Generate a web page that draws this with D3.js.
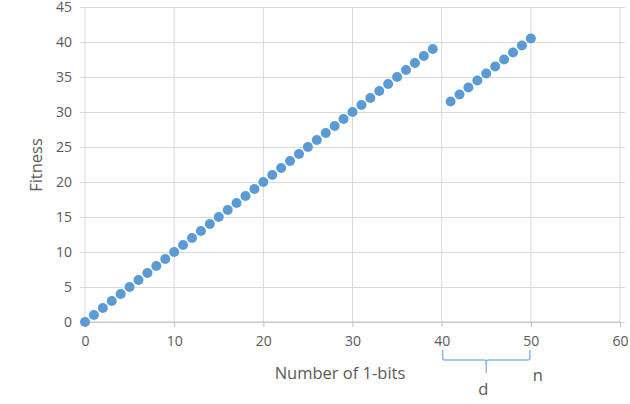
<!DOCTYPE html>
<html>
<head>
<meta charset="utf-8">
<script src="https://cdn.jsdelivr.net/npm/d3@7"></script>
<style>
 body { margin: 0; background: #fff; }
 text { font-family: "Open Sans", "Noto Sans", sans-serif; fill: #595959; }
</style>
</head>
<body>
<div id="chart"></div>
<script>
// data: number of 1-bits vs fitness
const bitsLow = [0,1,2,3,4,5,6,7,8,9,10,11,12,13,14,15,16,17,18,19,20,21,22,23,24,25,26,27,28,29,30,31,32,33,34,35,36,37,38,39];
const fitLow = [0,1,2,3,4,5,6,7,8,9,10,11,12,13,14,15,16,17,18,19,20,21,22,23,24,25,26,27,28,29,30,31,32,33,34,35,36,37,38,39];
const bitsHigh = [41,42,43,44,45,46,47,48,49,50];
const fitHigh = [31.5,32.5,33.5,34.5,35.5,36.5,37.5,38.5,39.5,40.5];
const xTicks = [0,10,20,30,40,50,60];
const yTicks = [0,5,10,15,20,25,30,35,40,45];
const bracket = { from: 40, to: 50, label: "d", endLabel: "n" };

const width = 630, height = 404,
 margin = { top: 7, right: 10, bottom: 82, left: 85 };

const points = bitsLow.map((b, i) => ({ x: b, y: fitLow[i] }))
 .concat(bitsHigh.map((b, i) => ({ x: b, y: fitHigh[i] })));

const svg = d3.select("#chart").append("svg")
 .attr("width", width)
 .attr("height", height);

const x = d3.scaleLinear().domain([0, 60]).range([margin.left, width - margin.right]);
const y = d3.scaleLinear().domain([0, 45]).range([height - margin.bottom, margin.top]);

// horizontal grid + y labels
svg.append("g")
 .attr("transform", `translate(${margin.left},0)`)
 .call(d3.axisLeft(y).tickValues(yTicks).tickSize(-(width - margin.right - margin.left + 5)).tickPadding(13))
 .call(g => g.select(".domain").remove())
 .call(g => g.selectAll(".tick line").attr("stroke", "#d9d9d9").attr("x1", -5))
 .call(g => g.selectAll(".tick text").attr("font-size", 14).attr("fill", "#595959").attr("font-family", "Open Sans"));

// vertical grid
svg.append("g")
 .selectAll("line")
 .data(xTicks)
 .join("line")
 .attr("x1", d => x(d)).attr("x2", d => x(d))
 .attr("y1", y(45)).attr("y2", y(0))
 .attr("stroke", "#d9d9d9");

// x axis
svg.append("g")
 .attr("transform", `translate(0,${y(0)})`)
 .call(d3.axisBottom(x).tickValues(xTicks).tickSize(5).tickPadding(9))
 .call(g => g.select(".domain").attr("stroke", "#bfbfbf").attr("d", `M${x(0)},0H${x(60)}`))
 .call(g => g.selectAll(".tick line").attr("stroke", "#bfbfbf"))
 .call(g => g.selectAll(".tick text").attr("font-size", 14).attr("fill", "#595959").attr("font-family", "Open Sans"));

// points
svg.append("g")
 .selectAll("circle")
 .data(points)
 .join("circle")
 .attr("cx", d => x(d.x))
 .attr("cy", d => y(d.y))
 .attr("r", 5)
 .attr("fill", "#5b9bd5");

// axis titles
svg.append("text")
 .attr("x", 340).attr("y", 379)
 .attr("text-anchor", "middle")
 .attr("font-size", 16.5)
 .text("Number of 1-bits");

svg.append("text")
 .attr("transform", "translate(42,165) rotate(-90)")
 .attr("text-anchor", "middle")
 .attr("font-size", 16.5)
 .text("Fitness");

// bracket under 40..50
const bx0 = x(bracket.from) + 1, bx1 = x(bracket.to) - 1, bm = (bx0 + bx1) / 2, by = 360;
svg.append("path")
 .attr("d", `M${bx0},350 V${by - 2} Q${bx0},${by} ${bx0 + 2},${by} H${bm - 2} Q${bm},${by} ${bm},${by + 3} V${by + 13} M${bm},${by + 3} Q${bm},${by} ${bm + 2},${by} H${bx1 - 2} Q${bx1},${by} ${bx1},${by - 2} V350`)
 .attr("fill", "none")
 .attr("stroke", "#8db8e2")
 .attr("stroke-width", 1.5);

svg.append("text")
 .attr("x", bm - 3).attr("y", 395)
 .attr("text-anchor", "middle")
 .attr("font-size", 16.5)
 .text(bracket.label);

svg.append("text")
 .attr("x", x(bracket.to) + 7).attr("y", 381)
 .attr("text-anchor", "middle")
 .attr("font-size", 16.5)
 .text(bracket.endLabel);
</script>
</body>
</html>
